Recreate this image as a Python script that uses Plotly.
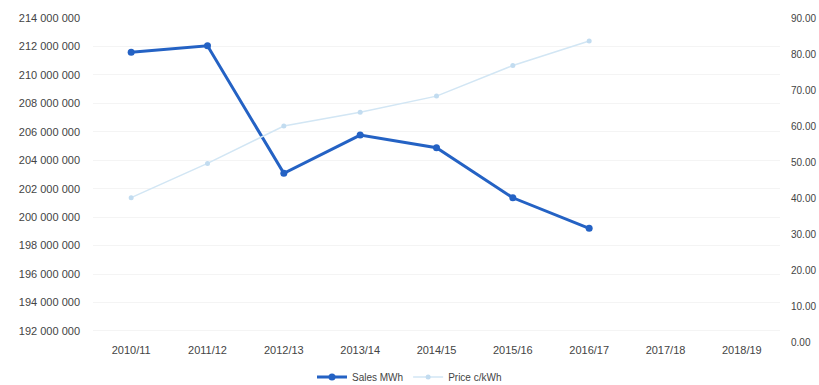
import plotly.graph_objects as go

years = ["2010/11", "2011/12", "2012/13", "2013/14", "2014/15", "2015/16", "2016/17", "2017/18", "2018/19"]
sales_mwh = [211590000, 212050000, 203080000, 205770000, 204880000, 201360000, 199210000, None, None]
price_ckwh = [40.1, 49.6, 60.0, 63.8, 68.3, 76.8, 83.6, None, None]

left_ticks = [192e6 + 2e6 * i for i in range(12)]
left_text = ["192 000 000", "194 000 000", "196 000 000", "198 000 000", "200 000 000",
             "202 000 000", "204 000 000", "206 000 000", "208 000 000", "210 000 000",
             "212 000 000", "214 000 000"]
right_ticks = [0, 10, 20, 30, 40, 50, 60, 70, 80, 90]
right_text = ["0.00", "10.00", "20.00", "30.00", "40.00", "50.00", "60.00", "70.00", "80.00", "90.00"]

fig = go.Figure()
fig.add_trace(go.Scatter(
    x=years, y=sales_mwh, name="Sales MWh", mode="lines+markers",
    line=dict(color="#2462c4", width=3), marker=dict(color="#2462c4", size=7),
    yaxis="y"))
fig.add_trace(go.Scatter(
    x=years, y=price_ckwh, name="Price c/kWh", mode="lines+markers",
    line=dict(color="#d2e6f4", width=1.5), marker=dict(color="#c2dcf0", size=5),
    yaxis="y2"))

font = dict(family="Liberation Sans, Arial, sans-serif", size=11, color="#444444")
font_r = dict(family="Liberation Sans, Arial, sans-serif", size=10, color="#444444")
fig.update_layout(
    width=819, height=385,
    margin=dict(l=93, r=39, t=18, b=43, autoexpand=False),
    paper_bgcolor="white", plot_bgcolor="white",
    font=font,
    showlegend=True,
    legend=dict(orientation="h", x=0.5, xanchor="center", xref="container",
                y=0.021, yanchor="middle", yref="container",
                font=dict(size=10, color="#444444")),
    xaxis=dict(type="category", categoryorder="array", categoryarray=years,
               range=[-0.5, 8.5], showline=False, showgrid=False, ticks="",
               zeroline=False, tickfont=font, automargin=False),
    yaxis=dict(range=[191.22e6, 214e6], tickvals=left_ticks, ticktext=left_text,
               showgrid=True, gridcolor="#f4f4f4", zeroline=False, showline=False,
               ticks="", tickfont=font, automargin=False, ticklabelstandoff=12),
    yaxis2=dict(range=[0, 90], tickvals=right_ticks, ticktext=right_text,
                overlaying="y", side="right", showgrid=False, zeroline=False,
                showline=False, ticks="", tickfont=font_r, automargin=False,
                ticklabelstandoff=10),
)

fig.write_html("out.html", config={"displayModeBar": False},
               post_script="document.body.style.margin='0';document.body.style.overflow='hidden';")
